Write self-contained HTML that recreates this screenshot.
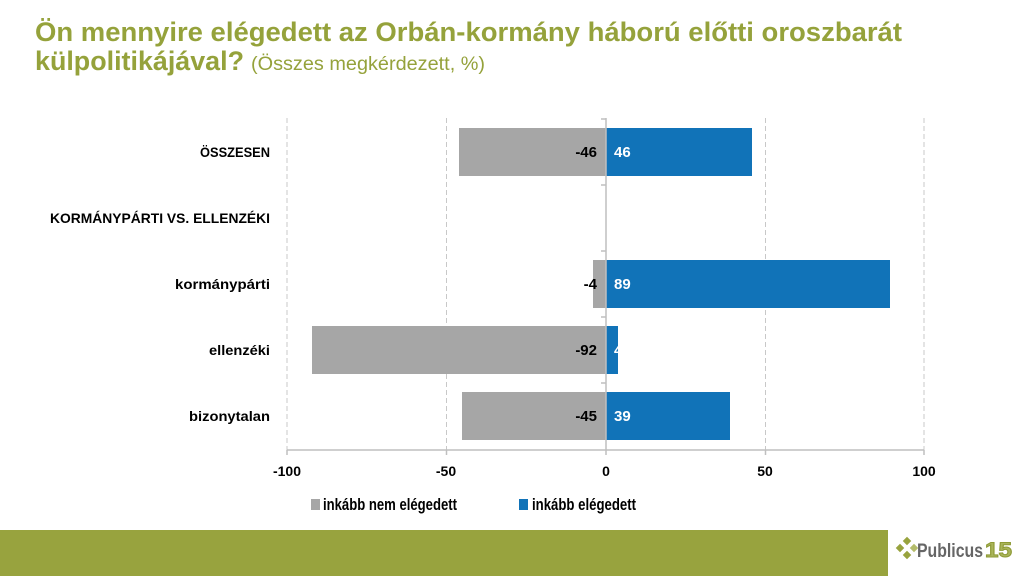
<!DOCTYPE html>
<html>
<head>
<meta charset="utf-8">
<style>
html,body{margin:0;padding:0;background:#fff;}
svg{display:block;}
</style>
</head>
<body>
<svg width="1024" height="576" viewBox="0 0 1024 576" xmlns="http://www.w3.org/2000/svg" font-family="'Liberation Sans', sans-serif">
  <rect width="1024" height="576" fill="#ffffff"/>
  <!-- Title -->
  <text x="35" y="41" font-size="27" font-weight="bold" fill="#95A23B" textLength="867" lengthAdjust="spacingAndGlyphs">Ön mennyire elégedett az Orbán-kormány háború előtti oroszbarát</text>
  <text x="35" y="70" font-size="27" font-weight="bold" fill="#95A23B" textLength="209" lengthAdjust="spacingAndGlyphs">külpolitikájával?</text>
  <text x="251" y="70" font-size="19" fill="#95A23B" textLength="234" lengthAdjust="spacingAndGlyphs">(Összes megkérdezett, %)</text>

  <!-- gridlines -->
  <g stroke="#C8C8C8" stroke-width="1" stroke-dasharray="5,3">
    <line x1="287" y1="118" x2="287" y2="450"/>
    <line x1="446.5" y1="118" x2="446.5" y2="450"/>
    <line x1="765.5" y1="118" x2="765.5" y2="450"/>
    <line x1="924" y1="118" x2="924" y2="450"/>
  </g>

  <!-- bars -->
  <g>
    <rect x="459" y="128" width="147" height="48" fill="#A6A6A6"/>
    <rect x="606" y="128" width="146" height="48" fill="#1173B8"/>

    <rect x="593" y="260" width="13" height="48" fill="#A6A6A6"/>
    <rect x="606" y="260" width="284" height="48" fill="#1173B8"/>

    <rect x="312" y="326" width="294" height="48" fill="#A6A6A6"/>
    <rect x="606" y="326" width="12" height="48" fill="#1173B8"/>

    <rect x="462" y="392" width="144" height="48" fill="#A6A6A6"/>
    <rect x="606" y="392" width="124" height="48" fill="#1173B8"/>
  </g>

  <!-- zero axis -->
  <line x1="606" y1="118" x2="606" y2="450" stroke="#BFBFBF" stroke-width="1.5"/>
  <g stroke="#BFBFBF" stroke-width="1.5">
    <line x1="601" y1="119" x2="606" y2="119"/>
    <line x1="601" y1="185" x2="606" y2="185"/>
    <line x1="601" y1="251" x2="606" y2="251"/>
    <line x1="601" y1="317" x2="606" y2="317"/>
    <line x1="601" y1="383" x2="606" y2="383"/>
  </g>
  <!-- x axis -->
  <line x1="287" y1="450" x2="924" y2="450" stroke="#BFBFBF" stroke-width="1.5"/>
  <g stroke="#BFBFBF" stroke-width="1.5">
    <line x1="287" y1="450" x2="287" y2="455"/>
    <line x1="446.5" y1="450" x2="446.5" y2="455"/>
    <line x1="606" y1="450" x2="606" y2="455"/>
    <line x1="765.5" y1="450" x2="765.5" y2="455"/>
    <line x1="924" y1="450" x2="924" y2="455"/>
  </g>

  <!-- bar labels -->
  <g font-size="15" font-weight="bold">
    <text x="597" y="157" text-anchor="end" fill="#000">-46</text>
    <text x="614" y="157" fill="#fff">46</text>
    <text x="597" y="289" text-anchor="end" fill="#000">-4</text>
    <text x="614" y="289" fill="#fff">89</text>
    <text x="597" y="355" text-anchor="end" fill="#000">-92</text>
    <text x="614" y="355" fill="#fff">4</text>
    <text x="597" y="421" text-anchor="end" fill="#000">-45</text>
    <text x="614" y="421" fill="#fff">39</text>
  </g>

  <!-- category labels -->
  <g font-size="14" font-weight="bold" fill="#000" text-anchor="end">
    <text x="270" y="157" textLength="70" lengthAdjust="spacingAndGlyphs">ÖSSZESEN</text>
    <text x="270" y="223" textLength="220" lengthAdjust="spacingAndGlyphs">KORMÁNYPÁRTI VS. ELLENZÉKI</text>
    <text x="270" y="289" textLength="95" lengthAdjust="spacingAndGlyphs">kormánypárti</text>
    <text x="270" y="355" textLength="61" lengthAdjust="spacingAndGlyphs">ellenzéki</text>
    <text x="270" y="421" textLength="81" lengthAdjust="spacingAndGlyphs">bizonytalan</text>
  </g>

  <!-- x tick labels -->
  <g font-size="14" font-weight="bold" fill="#000" text-anchor="middle">
    <text x="287" y="476">-100</text>
    <text x="446" y="476">-50</text>
    <text x="606" y="476">0</text>
    <text x="765" y="476">50</text>
    <text x="924" y="476">100</text>
  </g>

  <!-- legend -->
  <rect x="311" y="499" width="9" height="11" fill="#A6A6A6"/>
  <text x="323" y="510" font-size="17" font-weight="bold" fill="#000" textLength="134" lengthAdjust="spacingAndGlyphs">inkább nem elégedett</text>
  <rect x="519" y="499" width="9" height="11" fill="#1173B8"/>
  <text x="532" y="510" font-size="17" font-weight="bold" fill="#000" textLength="104" lengthAdjust="spacingAndGlyphs">inkább elégedett</text>

  <!-- footer band -->
  <rect x="0" y="530" width="888" height="46" fill="#98A33E"/>

  <!-- logo icon: four diamonds -->
  <g fill="#98A33E">
    <rect x="-3" y="-3" width="6" height="6" transform="translate(907,541) rotate(45)"/>
    <rect x="-3" y="-3" width="6" height="6" transform="translate(900,548) rotate(45)"/>
    <rect x="-3" y="-3" width="6" height="6" transform="translate(914,548) rotate(45)" fill="#B4BC6A"/>
    <rect x="-3" y="-3" width="6" height="6" transform="translate(907,555) rotate(45)"/>
  </g>
  <text x="917" y="557" font-size="19" font-weight="bold" fill="#666" textLength="66" lengthAdjust="spacingAndGlyphs">Publicus</text>
  <text x="985" y="557" font-size="21" font-weight="bold" fill="#A9B45A" stroke="#8E9A35" stroke-width="1" textLength="27" lengthAdjust="spacingAndGlyphs">15</text>
</svg>
</body>
</html>
